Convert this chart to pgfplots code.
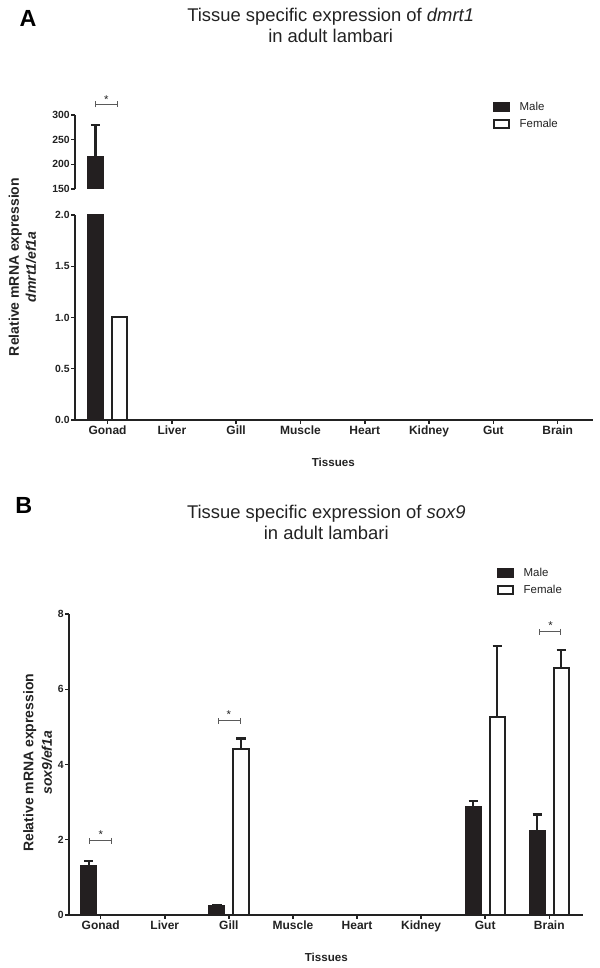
\documentclass[border=0pt]{standalone}
\usepackage{fontspec}
\setmainfont{Liberation Sans}
\usepackage{pgfplots}
\pgfplotsset{compat=1.18}
\usetikzlibrary{arrows.meta}
\definecolor{barblack}{HTML}{231F20}
\definecolor{ink}{HTML}{222222}
\definecolor{brk}{HTML}{5A5A5A}

\pgfplotsset{
 gp/.style={
  scale only axis,
  ybar=6.5pt, bar width=11.5pt,
  tick align=outside,
  major tick length=2.8pt,
  /pgf/number format/assume math mode=true,
  yticklabel style={font=\bfseries\fontsize{7.8}{9}\selectfont, inner sep=1pt, text=ink},
  xticklabel style={font=\bfseries\fontsize{9}{10}\selectfont, inner sep=1.5pt, text=ink},
  clip mode=individual,
 },
 gpaxis/.style={axis line style={-, line width=1.1pt, ink}, tick style={line width=1.1pt, ink}},
 male/.style={fill=barblack, draw=barblack, line width=1.2pt,
   legend image code/.code={\draw[fill=barblack, draw=barblack, line width=1.2pt] (0pt,-3pt) rectangle (11.5pt,3pt);}},
 female/.style={fill=white, draw=ink, line width=1.5pt,
   legend image code/.code={\draw[fill=white, draw=ink, line width=1.2pt] (0pt,-3pt) rectangle (11.5pt,3pt);}},
 errs/.style={error bars/.cd, y dir=plus, y explicit,
   error bar style={line width=1.6pt, draw=ink},
   error mark=-,
   error mark options={rotate=90, line width=1.6pt, mark size=3.5pt, draw=ink}},
 gplegend/.style={legend style={at={#1}, anchor=north west, draw=none, fill=none,
   font=\fontsize{8.6}{10}\selectfont, inner sep=0pt, row sep=2.5pt, column sep=6pt,
   nodes={inner sep=1.2pt, text=ink}}, legend cell align=left},
}

\begin{document}
\begin{tikzpicture}
\useasboundingbox (0,0) rectangle (450pt,726pt);

% ---------- Panel A ----------
\node[anchor=base west, font=\bfseries\fontsize{17.5}{20}\selectfont, text=black, inner sep=0pt] at (14.5pt,706pt) {A};
\node[anchor=base, font=\fontsize{13.8}{16}\selectfont, text=ink, inner sep=0pt] at (248pt,709.7pt) {Tissue specific expression of \textit{dmrt1}};
\node[anchor=base, font=\fontsize{13.8}{16}\selectfont, text=ink, inner sep=0pt] at (248pt,694pt) {in adult lambari};

% top (broken) segment
\begin{axis}[gp, at={(56.25pt,584.25pt)}, anchor=south west,
  width=388.3pt, height=55.5pt,
  axis x line=none, axis y line*=left, gpaxis,
  xmin=-0.506, xmax=7.545, ymin=150, ymax=300,
  ytick={150,200,250,300}, xtick=\empty]
\addplot[male, errs] coordinates {(0,216) +- (0,63)};
% female gonad (1.0) lies below the break: kept invisible here so the bars keep their places
\addplot[draw=none, fill=none] coordinates {(0,1)};
\draw[brk, line width=0.8pt, {Bar[width=4.5pt]}-{Bar[width=4.5pt]}] (axis cs:-0.195,321.7) -- (axis cs:0.159,321.7);
\node[anchor=south, inner sep=0pt, font=\fontsize{8.5}{9}\selectfont, text=ink] at (axis cs:-0.018,323.5) {*};
\end{axis}

% bottom segment (values above the break are clamped to the break)
\begin{axis}[gp, at={(56.25pt,411pt)}, anchor=south west,
  width=388.3pt, height=153.75pt,
  axis lines*=left, gpaxis,
  xmin=-0.506, xmax=7.545, ymin=0, ymax=2,
  ytick={0,0.5,1,1.5,2},
  yticklabel style={/pgf/number format/fixed, /pgf/number format/fixed zerofill, /pgf/number format/precision=1},
  xtick={0,1,2,3,4,5,6,7},
  xticklabels={Gonad,Liver,Gill,Muscle,Heart,Kidney,Gut,Brain},
  gplegend={(axis description cs:0.807,1.561)}]
\addplot[male, restrict y to domain*=0:2.1] coordinates {(0,216)};
\addplot[female] coordinates {(0,1)};
\legend{Male,Female}
\end{axis}

\node[rotate=90, align=center, font=\bfseries\fontsize{10.5}{12.75}\selectfont, text=ink] at (16.9pt,525.75pt) {Relative mRNA expression\\\textit{dmrt1/ef1a}};
\node[anchor=base, font=\bfseries\fontsize{8.7}{10}\selectfont, text=ink, inner sep=0pt] at (250pt,376pt) {Tissues};

% ---------- Panel B ----------
\node[anchor=base west, font=\bfseries\fontsize{17.5}{20}\selectfont, text=black, inner sep=0pt] at (11.25pt,341pt) {B};
\node[anchor=base, font=\fontsize{13.8}{16}\selectfont, text=ink, inner sep=0pt] at (244.7pt,337.2pt) {Tissue specific expression of \textit{sox9}};
\node[anchor=base, font=\fontsize{13.8}{16}\selectfont, text=ink, inner sep=0pt] at (244.7pt,321pt) {in adult lambari};

\begin{axis}[gp, at={(51.75pt,39.75pt)}, anchor=south west,
  width=385.7pt, height=225.75pt,
  axis lines*=left, gpaxis,
  xmin=-0.495, xmax=7.53, ymin=0, ymax=8,
  ytick={0,2,4,6,8},
  xtick={0,1,2,3,4,5,6,7},
  xticklabels={Gonad,Liver,Gill,Muscle,Heart,Kidney,Gut,Brain},
  gplegend={(axis description cs:0.832,1.159)}]
\addplot[male, errs] coordinates {(0,1.30) +- (0,0.13) (2,0.25) +- (0,0.01) (6,2.88) +- (0,0.14) (7,2.24) +- (0,0.43)};
\addplot[female, errs] coordinates {(2,4.41) +- (0,0.28) (6,5.25) +- (0,1.89) (7,6.57) +- (0,0.47)};
\legend{Male,Female}
\draw[brk, line width=0.8pt, {Bar[width=4.5pt]}-{Bar[width=4.5pt]}] (axis cs:-0.183,1.97) -- (axis cs:0.176,1.97);
\node[anchor=south, inner sep=0pt, font=\fontsize{8.5}{9}\selectfont, text=ink] at (axis cs:0,2.02) {*};
\draw[brk, line width=0.8pt, {Bar[width=4.5pt]}-{Bar[width=4.5pt]}] (axis cs:1.83,5.16) -- (axis cs:2.184,5.16);
\node[anchor=south, inner sep=0pt, font=\fontsize{8.5}{9}\selectfont, text=ink] at (axis cs:2.0,5.21) {*};
\draw[brk, line width=0.8pt, {Bar[width=4.5pt]}-{Bar[width=4.5pt]}] (axis cs:6.84,7.53) -- (axis cs:7.19,7.53);
\node[anchor=south, inner sep=0pt, font=\fontsize{8.5}{9}\selectfont, text=ink] at (axis cs:7.02,7.58) {*};
\end{axis}

\node[rotate=90, align=center, font=\bfseries\fontsize{10.5}{13.9}\selectfont, text=ink] at (28.3pt,153.9pt) {Relative mRNA expression\\\textit{sox9/ef1a}};
\node[anchor=base, font=\bfseries\fontsize{8.7}{10}\selectfont, text=ink, inner sep=0pt] at (244.7pt,4.7pt) {Tissues};
\end{tikzpicture}
\end{document}
